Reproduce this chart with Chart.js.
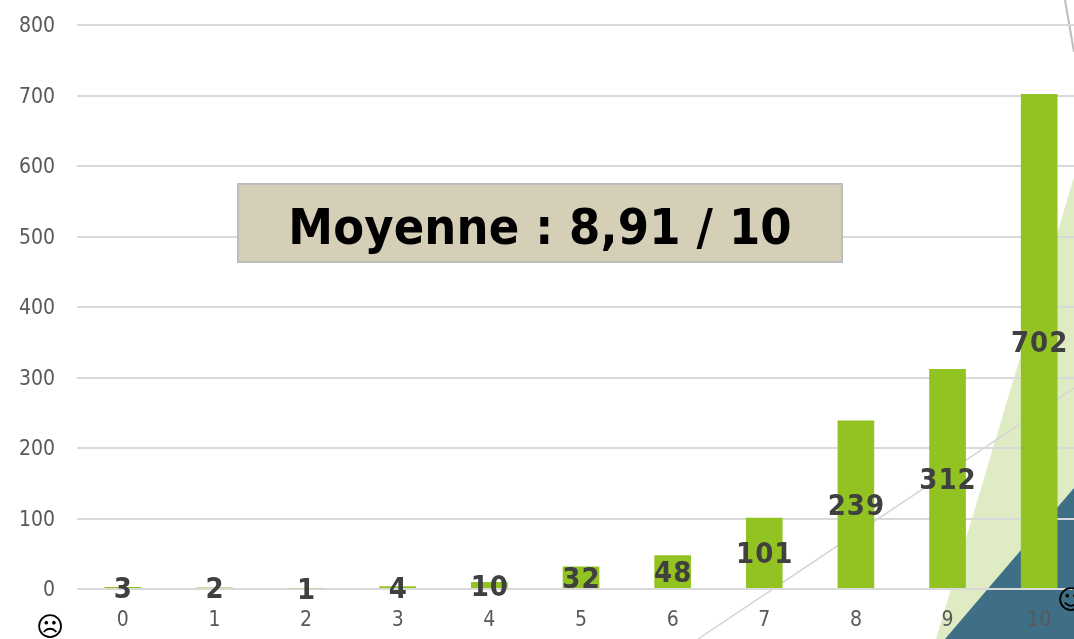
<!DOCTYPE html>
<html lang="fr">
<head>
<meta charset="utf-8">
<title>Moyenne</title>
<script src="https://cdn.jsdelivr.net/npm/chart.js@4/dist/chart.umd.min.js"></script>
<style>
  html, body { margin: 0; padding: 0; background: #fff; overflow: hidden; }
  #wrap { position: relative; width: 1074px; height: 639px; overflow: hidden; font-family: "DejaVu Sans Condensed", "DejaVu Sans", sans-serif; }
  #deco { position: absolute; left: 0; top: 0; }
  #simChart { position: absolute; left: 0; top: 0; }
  #moyenne {
    position: absolute; left: 237px; top: 183px; width: 602px; height: 76px; line-height: 85px;
    background: #d5cfb8; border: 2px solid #bdbdbd; margin: 0;
    text-align: center; font-size: 50px; font-weight: 700; color: #000; letter-spacing: 0.15px;
  }
  .smiley { position: absolute; font-family: "DejaVu Sans", sans-serif; font-size: 27px; line-height: 30px; color: #000; }
</style>
</head>
<body>
<div id="wrap">
  <svg id="deco" width="1074" height="639">
    <polygon points="936,639 1074,177 1074,639" fill="#deebc3"></polygon>
    <polygon points="945,639 1074,488 1074,639" fill="#3e6f87"></polygon>
    <line x1="698" y1="639" x2="1074" y2="388" stroke="#d4d4d4" stroke-width="1.5"></line>
    <line x1="1065" y1="0" x2="1074" y2="52" stroke="#bcbcbc" stroke-width="2"></line>
  </svg>
  <canvas id="simChart" width="1085" height="639"></canvas>
  <div id="moyenne">Moyenne : 8,91 / 10</div>
  <div class="smiley" style="left:36px;top:612px">☹</div>
  <div class="smiley" style="left:1057px;top:585px">☺</div>
</div>
<script>
const categories = ["0", "1", "2", "3", "4", "5", "6", "7", "8", "9", "10"];
const nbReponses = [3, 2, 1, 4, 10, 32, 48, 101, 239, 312, 702];
const yMin = 0;
const yMax = 800;
const yStep = 100;

const fontName = '"DejaVu Sans Condensed", "DejaVu Sans", sans-serif';

// valeurs au centre de chaque barre
const labelPlugin = {
  id: "labelBarres",
  beforeDraw(chart) {
    // descend un peu les graduations de y
    chart.scales.y.getLabelItems().forEach((item) => {
      item.textOffset += 2;
    });
  },
  afterDatasetsDraw(chart) {
    const ctx = chart.ctx;
    const bars = chart.getDatasetMeta(0).data;
    ctx.save();
    ctx.font = "700 29px " + fontName;
    ctx.fillStyle = "#404040";
    ctx.textAlign = "center";
    ctx.textBaseline = "middle";
    ctx.letterSpacing = "1px";
    bars.forEach((bar, i) => {
      const p = bar.getCenterPoint();
      ctx.fillText(nbReponses[i], p.x + 0.5, p.y + 3);
    });
    ctx.restore();
  },
};

new Chart(document.getElementById("simChart").getContext("2d"), {
  type: "bar",
  data: {
    labels: categories,
    datasets: [
      {
        data: nbReponses,
        backgroundColor: "#92c323",
        barPercentage: 1,
        categoryPercentage: 0.4,
      },
    ],
  },
  options: {
    responsive: false,
    animation: false,
    layout: { padding: { top: 25, left: 0, right: 0, bottom: 0 } },
    plugins: { legend: { display: false }, tooltip: { enabled: false } },
    scales: {
      x: {
        afterFit(axis) { axis.height = 50; axis.paddingLeft = 0; axis.paddingRight = 0; },
        grid: { display: false },
        border: { display: false },
        ticks: { color: "#595959", font: { family: fontName, size: 21 }, padding: 11, maxRotation: 0 },
      },
      y: {
        min: yMin,
        max: yMax,
        afterFit(axis) { axis.width = 77; axis.paddingTop = 0; axis.paddingBottom = 0; },
        grid: { color: "#d9d9d9", lineWidth: 2, drawTicks: false },
        border: { display: false },
        ticks: { stepSize: yStep, color: "#595959", font: { family: fontName, size: 21 }, padding: 22 },
      },
    },
  },
  plugins: [labelPlugin],
});
</script>
</body>
</html>
